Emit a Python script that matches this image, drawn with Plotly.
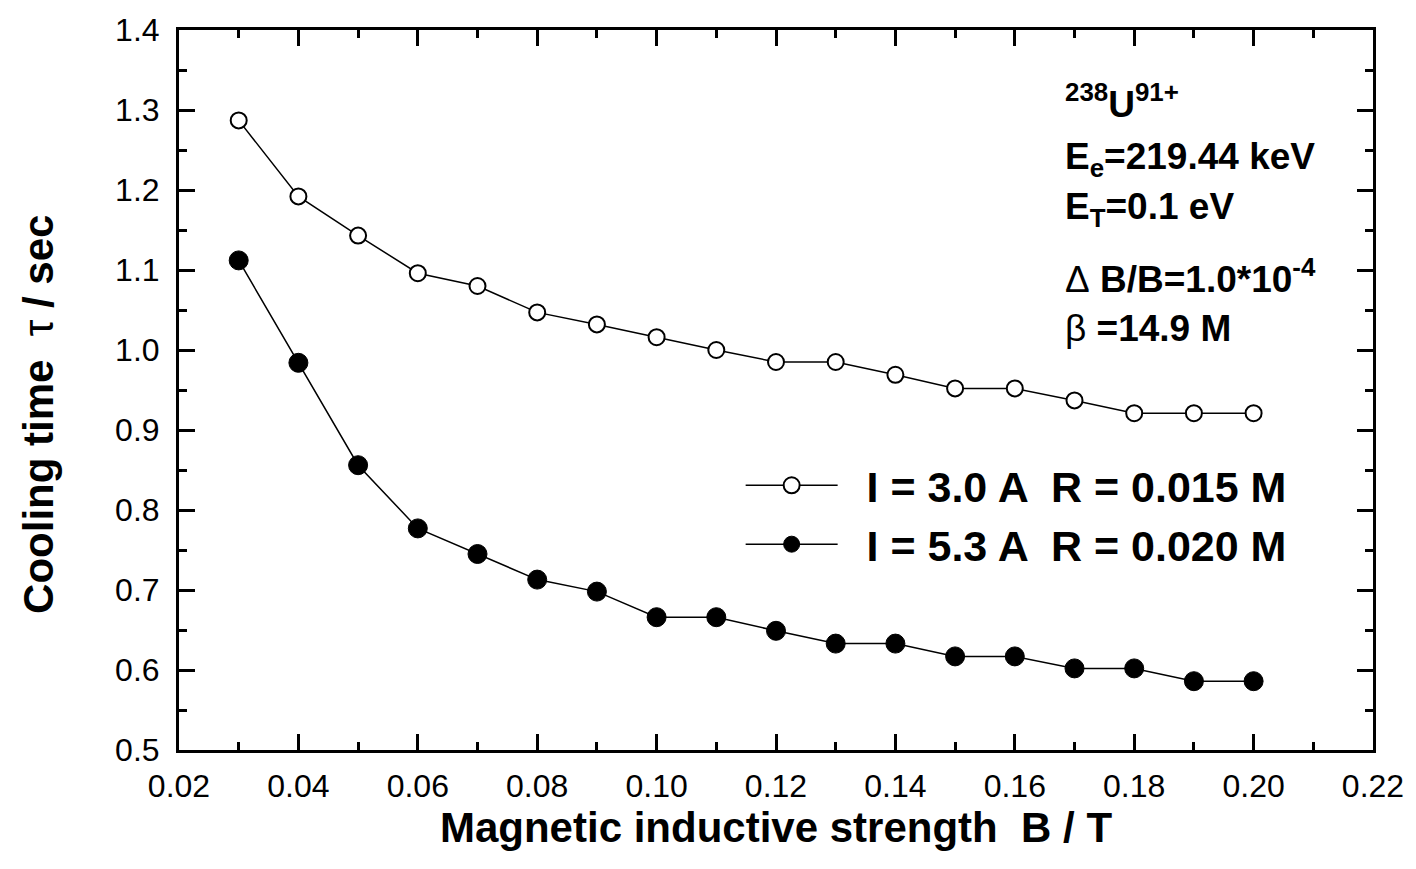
import plotly.graph_objects as go

B_field = [0.03, 0.04, 0.05, 0.06, 0.07, 0.08, 0.09, 0.10, 0.11, 0.12,
           0.13, 0.14, 0.15, 0.16, 0.17, 0.18, 0.19, 0.20]
tau_I30 = [1.287, 1.192, 1.143, 1.096, 1.080, 1.047, 1.032, 1.016, 1.000, 0.985,
           0.985, 0.969, 0.952, 0.952, 0.937, 0.921, 0.921, 0.921]
tau_I53 = [1.112, 0.984, 0.856, 0.777, 0.745, 0.713, 0.698, 0.666, 0.666, 0.649,
           0.633, 0.633, 0.617, 0.617, 0.602, 0.602, 0.586, 0.586]
series_names = ["\u00a0\u00a0<b>I = 3.0 A  R = 0.015 M</b>", "\u00a0\u00a0<b>I = 5.3 A  R = 0.020 M</b>"]
info_lines = ["<b><sup>238</sup>U<sup>91+</sup></b>",
              "<b>E<sub>e</sub>=219.44 keV</b>",
              "<b>E<sub>T</sub>=0.1 eV</b>",
              "Δ<b> B/B=1.0*10<sup>-4</sup></b>",
              "β<b> =14.9 M</b>"]
info_ypix = [100, 157, 207, 275, 327]

FONT = "Liberation Sans, Arial, sans-serif"

fig = go.Figure()
fig.add_trace(go.Scatter(
    x=B_field, y=tau_I30, mode="lines+markers", name=series_names[0],
    line=dict(color="black", width=1.5),
    marker=dict(symbol="circle", size=16, color="white",
                line=dict(color="black", width=2)),
))
fig.add_trace(go.Scatter(
    x=B_field, y=tau_I53, mode="lines+markers", name=series_names[1],
    line=dict(color="black", width=1.5),
    marker=dict(symbol="circle", size=19, color="black",
                line=dict(color="black", width=1)),
))

for txt, yp in zip(info_lines, info_ypix):
    fig.add_annotation(
        text=txt, xref="paper", yref="paper",
        x=(1067 - 179) / 1199, y=(750 - yp) / 722,
        xanchor="left", yanchor="middle", showarrow=False,
        font=dict(family=FONT, size=37, color="black"),
    )

# y-axis title (placed as annotation to match its offset position)
fig.add_annotation(
    text="<b>Cooling time</b>  τ <b>/ sec</b>", xref="paper", yref="paper",
    x=0, y=(750 - 414) / 722, xanchor="center", yanchor="middle",
    xshift=39 - 179, textangle=-90, showarrow=False,
    font=dict(family=FONT, size=42, color="black"),
)

axis_common = dict(
    showline=True, linecolor="black", linewidth=3, mirror="ticks",
    ticks="inside", ticklen=16, tickwidth=3, tickcolor="black",
    showgrid=False, zeroline=False,
    tickfont=dict(family=FONT, size=32, color="black"),
)

fig.update_xaxes(
    range=[0.02, 0.22], dtick=0.02, tick0=0.02, tickformat=".2f",
    minor=dict(ticks="inside", ticklen=8, tickwidth=3, tickcolor="black", dtick=0.01,
               showgrid=False),
    title=dict(text="<b>Magnetic inductive strength  B / T</b>",
               font=dict(family=FONT, size=42, color="black"), standoff=9),
    ticklabelstandoff=6,
    **axis_common,
)
fig.update_yaxes(
    range=[0.5, 1.4], dtick=0.1, tick0=0.5, tickformat=".1f",
    minor=dict(ticks="inside", ticklen=8, tickwidth=3, tickcolor="black", dtick=0.05,
               showgrid=False),
    ticklabelstandoff=10,
    **axis_common,
)

fig.update_layout(
    width=1416, height=869,
    margin=dict(l=179, r=38, t=28, b=119),
    paper_bgcolor="white", plot_bgcolor="white",
    font=dict(family=FONT, color="black"),
    legend=dict(x=(743 - 179) / 1199, y=(750 - 450) / 722, xanchor="left", yanchor="top",
                bgcolor="rgba(0,0,0,0)", borderwidth=0,
                font=dict(family=FONT, size=43, color="black"),
                itemwidth=92, tracegroupgap=0),
    showlegend=True,
)

fig.write_html("out.html")
